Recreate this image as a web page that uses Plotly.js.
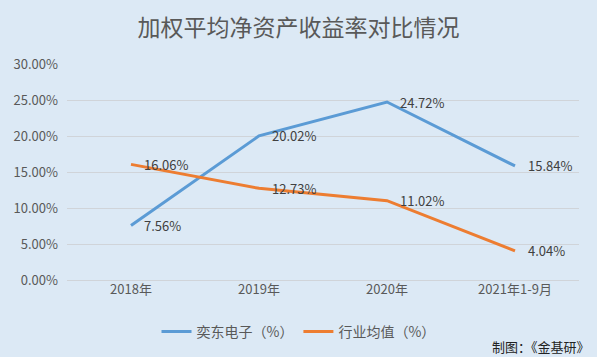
<!DOCTYPE html>
<html><head><meta charset="utf-8">
<script src="https://cdn.plot.ly/plotly-3.0.1.min.js"></script>
<style>html,body{margin:0;padding:0;background:#dce9f5;}</style>
</head><body>
<div id="chart" style="width:597px;height:357px;"></div>
<script>
const categories = ["2018年", "2019年", "2020年", "2021年1-9月"];
const seriesNames = ["奕东电子（%）", "行业均值（%）"];
const yidong = [7.56, 20.02, 24.72, 15.84];
const industry = [16.06, 12.73, 11.02, 4.04];
const yTicks = [0, 5, 10, 15, 20, 25, 30];

const font = "'Noto Sans CJK SC', 'Noto Sans', sans-serif";
const fmt = v => v.toFixed(2) + "%";

const traces = [
  {x: categories, y: yidong, name: seriesNames[0], mode: "lines",
   line: {color: "#5b9bd5", width: 3}},
  {x: categories, y: industry, name: seriesNames[1], mode: "lines",
   line: {color: "#ed7d31", width: 3}}
];

const labels = [];
[yidong, industry].forEach(series => {
  series.forEach((v, i) => {
    labels.push({x: categories[i], y: v, xref: "x", yref: "y", text: fmt(v),
      showarrow: false, xanchor: "left", yanchor: "middle", xshift: 11,
      font: {size: 13, color: "#404040", family: font}});
  });
});
labels.push({text: "制图：《金基研》", xref: "paper", yref: "paper", x: 1.025, y: -0.31,
  xanchor: "right", yanchor: "middle", showarrow: false, font: {size: 13, color: "#222", family: font}});

const layout = {
  width: 597, height: 357,
  paper_bgcolor: "#dce9f5", plot_bgcolor: "#dce9f5",
  margin: {l: 67, r: 18, t: 64, b: 77},
  font: {family: font, color: "#595959", size: 13},
  title: {text: "加权平均净资产收益率对比情况", x: 0.5, xanchor: "center", yref: "container", y: 1 - 28 / 357, yanchor: "middle",
          font: {size: 23, color: "#595959", family: font}},
  xaxis: {type: "category", showgrid: false, zeroline: false, showline: false,
          ticks: "", tickfont: {size: 13, color: "#595959"}, range: [-0.5, 3.5], fixedrange: true},
  yaxis: {range: [0, 30], tickvals: yTicks, ticktext: yTicks.map(v => v.toFixed(2) + "%"),
          showgrid: true, gridcolor: "#d0d4d9", gridwidth: 1, zeroline: true, zerolinecolor: "#d0d4d9",
          showline: false, ticks: "", ticklabelstandoff: 8, tickfont: {size: 13, color: "#595959"}, fixedrange: true},
  showlegend: true,
  legend: {orientation: "h", x: 0.5, xref: "container", xanchor: "center", yref: "container", y: 1 - 332 / 357, yanchor: "middle",
           font: {size: 14, color: "#595959"}, bgcolor: "rgba(0,0,0,0)", itemwidth: 30},
  annotations: labels
};
Plotly.newPlot("chart", traces, layout, {displayModeBar: false, staticPlot: true});
</script>
</body></html>
